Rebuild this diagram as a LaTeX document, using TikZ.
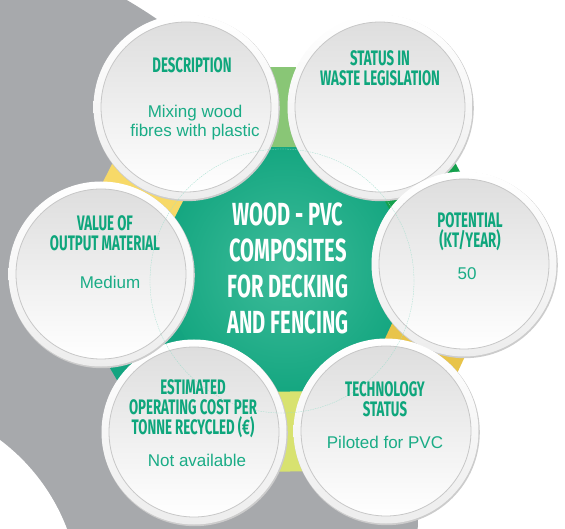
\documentclass[tikz,border=0pt]{standalone}
\usepackage{fontspec}
\setmainfont{Liberation Sans}
\newfontfamily\headfont[FakeStretch=0.63]{Fira Sans}
\usetikzlibrary{positioning}
\definecolor{backgray}{RGB}{167,169,172}
\definecolor{hubgreen}{RGB}{20,166,128}
\definecolor{hublight}{RGB}{62,188,154}
\definecolor{headgreen}{RGB}{14,166,124}
\definecolor{bodygreen}{RGB}{26,172,134}
\definecolor{leaf}{RGB}{137,198,118}
\definecolor{forest}{RGB}{20,160,76}
\definecolor{gold}{RGB}{232,196,74}
\definecolor{lime}{RGB}{216,226,112}
\definecolor{jade}{RGB}{20,164,128}
\definecolor{butter}{RGB}{247,217,104}
\tikzstyle{wedgebox}=[rectangle, draw=none, inner sep=0pt, minimum width=26pt, minimum height=80pt]
\tikzstyle{headtext}=[text=headgreen, font=\headfont\bfseries\fontsize{21}{20}\selectfont, align=center, inner sep=0pt]
\tikzstyle{bodytext}=[text=bodygreen, font=\fontsize{17}{19}\selectfont, align=center, inner sep=0pt]
\tikzstyle{hubtext}=[text=white, font=\headfont\bfseries\fontsize{32}{36}\selectfont, align=center, inner sep=0pt]

\begin{document}
\begin{tikzpicture}[x=1pt, y=-1pt]
	\useasboundingbox (0,0) rectangle (565,529);
	\clip (0,0) rectangle (565,529);
	\fill[backgray] (-174,510) circle (592);
	\fill[white] (-120,600) circle (200);

	\coordinate (desc) at (186,107);
	\coordinate (stat) at (380,107);
	\coordinate (pot) at (464,264);
	\coordinate (tech) at (386,431);
	\coordinate (est) at (194,432);
	\coordinate (val) at (101,274);

	\shade[inner color=hublight, outer color=hubgreen] (285,269) circle (125);
	\foreach \a/\b/\col in {desc/stat/leaf, stat/pot/forest, pot/tech/gold, tech/est/lime, est/val/jade, val/desc/butter} {
		\path (\a) -- (\b) node[midway, sloped, wedgebox, fill=\col] (\a-\b) {};
	}
	\foreach \c in {desc,stat,pot,tech,est,val} {
		\fill[black!20] (\c) ++(.8,1.2) circle (93);
		\shade[top color=white, bottom color=black!7] (\c) circle (92.5);
		\shade[shading angle=135, top color=black!13, bottom color=white, draw=black!22, line width=.8pt] (\c) circle (85);
	}
	\draw[hublight!50, line width=.3pt, dash pattern=on 1.5pt off 1pt] (282,281) circle (132);

	\node[headtext] (desc-head) at (192,65) {DESCRIPTION};
	\node[bodytext] (desc-body) at (195,123) {Mixing wood\\fibres with plastic};
	\node[headtext] (stat-head) at (380,68) {STATUS IN\\WASTE LEGISLATION};
	\node[headtext] (pot-head) at (470,232) {POTENTIAL\\(KT/YEAR)};
	\node[bodytext] (pot-body) at (467,274) {50};
	\node[headtext] (tech-head) at (385,399) {TECHNOLOGY\\STATUS};
	\node[bodytext] (tech-body) at (385,442) {Piloted for PVC};
	\node[headtext] (est-head) at (193,409) {ESTIMATED\\OPERATING COST PER\\TONNE RECYCLED (€)};
	\node[bodytext] (est-body) at (197,460) {Not available};
	\node[headtext] (val-head) at (105,233) {VALUE OF\\OUTPUT MATERIAL};
	\node[bodytext] (val-body) at (110,282) {Medium};
	\node[hubtext] (hub) at (288,268) {WOOD - PVC\\COMPOSITES\\FOR DECKING\\AND FENCING};
\end{tikzpicture}
\end{document}
